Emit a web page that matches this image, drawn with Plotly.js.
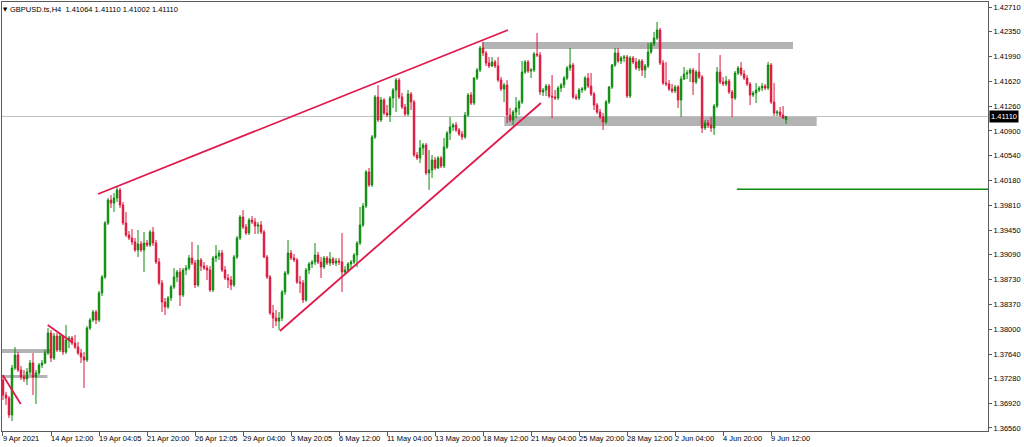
<!DOCTYPE html>
<html>
<head>
<meta charset="utf-8">
<script src="https://cdn.plot.ly/plotly-3.0.1.min.js"></script>
<style>
html,body{margin:0;padding:0;background:#fff;}
#chart{width:1024px;height:447px;}
</style>
</head>
<body>
<div id="chart"></div>
<script>
// ---- Chart data: GBPUSD.ts, H4 ----
var symbolTitle = "GBPUSD.ts,H4  1.41064 1.41110 1.41002 1.41110";
var lastPrice = 1.41110;

var openPrices = [
1.37261,1.37042,1.36998,1.36750,1.37436,1.37626,1.37407,1.37305,1.37276,1.37378,
1.37509,1.37305,1.37363,1.37480,1.37509,1.37655,1.37947,1.37582,1.37903,1.37699,
1.37903,1.37670,1.37845,1.37874,1.37801,1.37743,1.37655,1.37597,1.37553,1.38020,
1.38137,1.38255,1.38137,1.38532,1.38766,1.39554,1.39890,1.39846,1.39920,1.40037,
1.39817,1.39554,1.39379,1.39335,1.39277,1.39160,1.39248,1.39160,1.39262,1.39233,
1.39423,1.39262,1.38985,1.38678,1.38401,1.38328,1.38459,1.38620,1.38766,1.38839,
1.38503,1.38868,1.38897,1.39043,1.38970,1.38649,1.39014,1.38926,1.38897,1.38868,
1.38576,1.39043,1.39072,1.39116,1.38868,1.38751,1.38722,1.38649,1.39058,1.39335,
1.39642,1.39496,1.39408,1.39598,1.39569,1.39510,1.39525,1.39423,1.39058,1.38766,
1.38240,1.38167,1.38122,1.38167,1.38547,1.38824,1.39116,1.39043,1.39014,1.38693,
1.38678,1.38430,1.38868,1.38956,1.38985,1.39087,1.38985,1.38912,1.39043,1.38970,
1.39029,1.38970,1.38999,1.38985,1.38839,1.38868,1.38956,1.38985,1.39087,1.39262,
1.39525,1.39802,1.40300,1.40110,1.40811,1.41395,1.41059,1.41351,1.41161,1.41132,
1.41380,1.41497,1.41643,1.41395,1.41249,1.41147,1.41439,1.41322,1.40548,1.40504,
1.40650,1.40694,1.40285,1.40329,1.40475,1.40358,1.40504,1.40387,1.40665,1.40869,
1.40957,1.40986,1.40913,1.40854,1.40811,1.41132,1.41424,1.41307,1.41672,1.41789,
1.42111,1.42038,1.41892,1.41848,1.41907,1.41848,1.41643,1.41512,1.41570,1.41132,
1.41059,1.41176,1.41234,1.41322,1.41760,1.41907,1.41775,1.41789,1.42024,1.42009,
1.41468,1.41497,1.41555,1.41409,1.41395,1.41380,1.41526,1.41570,1.41672,1.41819,
1.41863,1.41395,1.41380,1.41497,1.41512,1.41672,1.41555,1.41439,1.41278,1.41176,
1.41103,1.41030,1.41322,1.41541,1.41863,1.42038,1.41921,1.41965,1.41980,1.41410,
1.41965,1.41907,1.41819,1.41921,1.41789,1.41848,1.42053,1.42170,1.42257,1.42374,
1.41892,1.41600,1.41585,1.41512,1.41482,1.41541,1.41351,1.41658,1.41731,1.41746,
1.41789,1.41614,1.41760,1.41687,1.40942,1.41015,1.40986,1.40942,1.41263,1.41760,
1.41614,1.41585,1.41629,1.41468,1.41380,1.41746,1.41819,1.41731,1.41672,1.41585,
1.41424,1.41453,1.41497,1.41526,1.41555,1.41526,1.41863,1.41322,1.41161,1.41176,
1.41132,1.41064];

var highPrices = [
1.37319,1.37086,1.37027,1.37480,1.37743,1.37670,1.37465,1.37407,1.37436,1.37553,
1.37655,1.37407,1.37509,1.37553,1.37699,1.38020,1.37991,1.37947,1.37947,1.37947,
1.37918,1.38064,1.37903,1.37903,1.37918,1.37816,1.37714,1.37670,1.38049,1.38167,
1.38284,1.38284,1.38561,1.38795,1.39583,1.39920,1.39964,1.39993,1.40081,1.40066,
1.39861,1.39715,1.39437,1.39467,1.39335,1.39452,1.39291,1.39423,1.39306,1.39452,
1.39496,1.39306,1.39043,1.38722,1.38459,1.38488,1.38649,1.38897,1.38868,1.38897,
1.38897,1.38941,1.39087,1.39277,1.39014,1.39233,1.39043,1.38985,1.38941,1.38926,
1.39072,1.39233,1.39160,1.39160,1.38926,1.38810,1.38780,1.39087,1.39364,1.39671,
1.39744,1.39540,1.39627,1.39656,1.39627,1.39569,1.39583,1.39452,1.39087,1.38795,
1.38357,1.38284,1.38255,1.38576,1.38853,1.39306,1.39160,1.39102,1.39043,1.38780,
1.38722,1.38897,1.38985,1.39014,1.39262,1.39131,1.39058,1.39072,1.39072,1.39131,
1.39058,1.39043,1.39043,1.39408,1.38926,1.38985,1.39014,1.39116,1.39291,1.39788,
1.39846,1.40329,1.40358,1.40840,1.41424,1.41570,1.41395,1.41380,1.41278,1.41409,
1.41526,1.41672,1.41672,1.41453,1.41293,1.41497,1.41468,1.41351,1.40592,1.40767,
1.40723,1.40723,1.40621,1.40548,1.40519,1.40533,1.40533,1.40796,1.40898,1.41103,
1.41015,1.41030,1.40942,1.40898,1.41176,1.41453,1.41468,1.41687,1.41819,1.42140,
1.42199,1.42067,1.41980,1.41980,1.41936,1.41980,1.41687,1.41600,1.41643,1.41234,
1.41205,1.41395,1.41351,1.41921,1.41936,1.41936,1.41819,1.42053,1.42330,1.42053,
1.41526,1.41585,1.41585,1.41716,1.41497,1.41555,1.41599,1.41701,1.41848,1.42111,
1.41892,1.41439,1.41526,1.41541,1.41701,1.41746,1.41746,1.41468,1.41307,1.41220,
1.41161,1.41351,1.41555,1.41877,1.42111,1.42111,1.41994,1.42009,1.42009,1.41994,
1.41994,1.41965,1.41950,1.41950,1.41877,1.42184,1.42199,1.42345,1.42491,1.42403,
1.41936,1.41907,1.41643,1.41585,1.41570,1.41570,1.41701,1.41833,1.41789,1.41819,
1.41819,1.41789,1.42038,1.41716,1.41059,1.41059,1.41103,1.41293,1.41833,1.42009,
1.41687,1.41701,1.41658,1.41497,1.41775,1.41848,1.41907,1.41789,1.41716,1.41614,
1.41482,1.41599,1.41555,1.41599,1.41585,1.41907,1.41892,1.41599,1.41205,1.41249,
1.41263,1.41110];

var lowPrices = [
1.36969,1.36896,1.36706,1.36662,1.37407,1.37378,1.37261,1.37232,1.37188,1.37334,
1.37042,1.36911,1.37334,1.37436,1.37495,1.37626,1.37524,1.37553,1.37670,1.37670,
1.37626,1.37641,1.37728,1.37772,1.37714,1.37626,1.37509,1.37144,1.37524,1.37991,
1.38108,1.38079,1.38108,1.38488,1.38737,1.39525,1.39773,1.39715,1.39861,1.39773,
1.39525,1.39350,1.39306,1.39233,1.39131,1.39058,1.39131,1.38839,1.39204,1.39204,
1.39218,1.38956,1.38649,1.38255,1.38211,1.38299,1.38415,1.38591,1.38693,1.38342,
1.38474,1.38795,1.38868,1.38941,1.38605,1.38620,1.38853,1.38868,1.38722,1.38547,
1.38547,1.38985,1.39014,1.38839,1.38722,1.38605,1.38576,1.38620,1.39029,1.39306,
1.39467,1.39379,1.39379,1.39540,1.39394,1.39394,1.39394,1.39043,1.38737,1.38211,
1.38020,1.38049,1.37991,1.38122,1.38503,1.38795,1.39014,1.38985,1.38664,1.38532,
1.38386,1.38401,1.38810,1.38897,1.38941,1.38956,1.38751,1.38883,1.38941,1.38926,
1.38941,1.38926,1.38941,1.38547,1.38810,1.38839,1.38897,1.38956,1.38912,1.39233,
1.39496,1.39773,1.40081,1.40081,1.40782,1.41030,1.41030,1.41132,1.41103,1.41030,
1.41234,1.41176,1.41366,1.41220,1.41117,1.41117,1.41205,1.40519,1.40475,1.40431,
1.40548,1.40256,1.40037,1.40212,1.40329,1.40344,1.40358,1.40358,1.40636,1.40767,
1.40898,1.40884,1.40825,1.40767,1.40782,1.41103,1.41278,1.41278,1.41643,1.41760,
1.41994,1.41848,1.41819,1.41834,1.41819,1.41614,1.41482,1.41322,1.41015,1.41030,
1.40986,1.41088,1.41132,1.41293,1.41731,1.41746,1.41672,1.41760,1.41980,1.41424,
1.41409,1.41409,1.41380,1.41088,1.41351,1.41351,1.41468,1.41526,1.41643,1.41775,
1.41366,1.41351,1.41351,1.41453,1.41482,1.41526,1.41409,1.41205,1.41147,1.41074,
1.40913,1.41001,1.41293,1.41512,1.41834,1.41892,1.41877,1.41907,1.41380,1.41380,
1.41877,1.41789,1.41775,1.41702,1.41672,1.41819,1.42024,1.42140,1.42228,1.41863,
1.41570,1.41555,1.41482,1.41453,1.41453,1.41234,1.41103,1.41643,1.41658,1.41614,
1.41424,1.41585,1.41658,1.40869,1.40913,1.40942,1.40884,1.40840,1.41234,1.41585,
1.41556,1.41556,1.41439,1.41103,1.41351,1.41716,1.41702,1.41643,1.41556,1.41278,
1.41395,1.41307,1.41468,1.41482,1.41497,1.41497,1.41293,1.41117,1.41117,1.41103,
1.41074,1.41002];

var closePrices = [
1.37042,1.36998,1.36750,1.37436,1.37626,1.37407,1.37305,1.37276,1.37378,1.37509,
1.37305,1.37363,1.37480,1.37509,1.37655,1.37947,1.37582,1.37903,1.37699,1.37903,
1.37670,1.37845,1.37874,1.37801,1.37743,1.37655,1.37597,1.37553,1.38020,1.38137,
1.38255,1.38137,1.38532,1.38766,1.39554,1.39890,1.39846,1.39920,1.40037,1.39817,
1.39554,1.39379,1.39335,1.39277,1.39160,1.39248,1.39160,1.39262,1.39233,1.39423,
1.39262,1.38985,1.38678,1.38401,1.38328,1.38459,1.38620,1.38766,1.38839,1.38503,
1.38868,1.38897,1.39043,1.38970,1.38649,1.39014,1.38926,1.38897,1.38868,1.38576,
1.39043,1.39072,1.39116,1.38868,1.38751,1.38722,1.38649,1.39058,1.39335,1.39642,
1.39496,1.39408,1.39598,1.39569,1.39510,1.39525,1.39423,1.39058,1.38766,1.38240,
1.38167,1.38122,1.38167,1.38547,1.38824,1.39116,1.39043,1.39014,1.38693,1.38678,
1.38430,1.38868,1.38956,1.38985,1.39087,1.38985,1.38912,1.39043,1.38970,1.39029,
1.38970,1.38999,1.38985,1.38839,1.38868,1.38956,1.38985,1.39087,1.39262,1.39525,
1.39802,1.40300,1.40110,1.40811,1.41395,1.41059,1.41351,1.41161,1.41132,1.41380,
1.41497,1.41643,1.41395,1.41249,1.41147,1.41439,1.41322,1.40548,1.40504,1.40650,
1.40694,1.40285,1.40329,1.40475,1.40358,1.40504,1.40387,1.40665,1.40869,1.40957,
1.40986,1.40913,1.40854,1.40811,1.41132,1.41424,1.41307,1.41672,1.41789,1.42111,
1.42038,1.41892,1.41848,1.41907,1.41848,1.41643,1.41512,1.41570,1.41132,1.41059,
1.41176,1.41234,1.41322,1.41760,1.41907,1.41775,1.41789,1.42024,1.42009,1.41468,
1.41497,1.41555,1.41409,1.41395,1.41380,1.41526,1.41570,1.41672,1.41819,1.41863,
1.41395,1.41380,1.41497,1.41512,1.41672,1.41555,1.41439,1.41278,1.41176,1.41103,
1.41030,1.41322,1.41541,1.41863,1.42038,1.41921,1.41965,1.41980,1.41410,1.41965,
1.41907,1.41819,1.41921,1.41789,1.41848,1.42053,1.42170,1.42257,1.42374,1.41892,
1.41600,1.41585,1.41512,1.41482,1.41541,1.41351,1.41658,1.41731,1.41746,1.41789,
1.41614,1.41760,1.41687,1.40942,1.41015,1.40986,1.40942,1.41263,1.41760,1.41614,
1.41585,1.41629,1.41468,1.41380,1.41746,1.41819,1.41731,1.41672,1.41585,1.41424,
1.41453,1.41497,1.41526,1.41555,1.41526,1.41863,1.41322,1.41161,1.41176,1.41132,
1.41088,1.41110];

// bar index of each date label and its text
var dateTickIndex = [0,16,32,48,64,80,96,112,128,144,160,176,192,208,224,240,256];
var dateTickText = ["9 Apr 2021","14 Apr 12:00","19 Apr 04:05","21 Apr 20:00","26 Apr 12:05",
  "29 Apr 04:00","3 May 20:05","6 May 12:00","11 May 04:00","13 May 20:00","18 May 12:00",
  "21 May 04:00","25 May 20:00","28 May 12:00","2 Jun 04:00","4 Jun 20:00","9 Jun 12:00"];

var priceTicks = [1.42710,1.42350,1.41990,1.41620,1.41260,1.40900,1.40540,1.40180,1.39810,
  1.39450,1.39090,1.38730,1.38370,1.38000,1.37640,1.37280,1.36920,1.36560];

// hand-drawn objects: trend lines [barStart, priceStart, barEnd, priceEnd]
var trendLines = [
  [31.7, 1.39978, 168.3, 1.42374],
  [92.3, 1.37977, 179.3, 1.41307],
  [-0.1, 1.37334, 5.9, 1.36910],
  [14.9, 1.38064, 22.9, 1.37816]
];
// rectangles [barStart, barEnd, priceLow, priceHigh]
var zones = [
  [-0.4, 15.7, 1.37655, 1.37714],
  [-0.4, 14.8, 1.37290, 1.37334],
  [159.6, 263.3, 1.42096, 1.42199],
  [167.1, 271.2, 1.40971, 1.41103]
];
// horizontal level [barStart, price]
var greenLevel = [244.6, 1.40047];

// ---- build chart ----
var barIndex = closePrices.map(function(_, i){ return i; });

var UP = '#0b8a0b', DOWN = '#dc143c';
var FONT = 'Liberation Sans, Arial, sans-serif';

var trace = {
  type: 'candlestick',
  x: barIndex,
  open: openPrices, high: highPrices, low: lowPrices, close: closePrices,
  increasing: {line: {color: UP, width: 1}, fillcolor: UP},
  decreasing: {line: {color: DOWN, width: 1}, fillcolor: DOWN},
  whiskerwidth: 0,
  hoverinfo: 'skip'
};

var shapes = [];
zones.forEach(function(z){
  shapes.push({type:'rect', xref:'x', yref:'y', x0:z[0], x1:z[1], y0:z[2], y1:z[3],
    fillcolor:'#b3b3b3', line:{width:0}, layer:'below'});
});
shapes.push({type:'line', xref:'paper', yref:'y', x0:0, x1:1, y0:lastPrice, y1:lastPrice,
  line:{color:'#c0c0c0', width:1}, layer:'below'});
trendLines.forEach(function(t){
  shapes.push({type:'line', xref:'x', yref:'y', x0:t[0], y0:t[1], x1:t[2], y1:t[3],
    line:{color:'#e0194c', width:1.8}, layer:'above'});
});
shapes.push({type:'line', xref:'x', yref:'y', x0:greenLevel[0], x1:328.3, y0:greenLevel[1], y1:greenLevel[1],
  line:{color:'#118a11', width:1.6}, layer:'above'});

var annotations = [];
dateTickIndex.forEach(function(ix, k){
  annotations.push({xref:'x', yref:'paper', x:ix, y:0, xanchor:'left', yanchor:'top',
    text: dateTickText[k], showarrow:false, xshift:-1, yshift:-2, borderpad:0,
    font:{family:FONT, size:7.5, color:'#000'}});
});
annotations.push({xref:'paper', yref:'paper', x:0, y:1, xanchor:'left', yanchor:'top',
  text:'▼', showarrow:false, xshift:0, yshift:-3, borderpad:0,
  font:{family:'DejaVu Sans', size:5.5, color:'#000'}});
annotations.push({xref:'paper', yref:'paper', x:0, y:1, xanchor:'left', yanchor:'top',
  text:symbolTitle, showarrow:false, xshift:7, yshift:-2, borderpad:0,
  font:{family:FONT, size:7.5, color:'#000'}});
annotations.push({xref:'paper', yref:'y', x:1, y:lastPrice, xanchor:'left', yanchor:'middle',
  text:lastPrice.toFixed(5), showarrow:false, xshift:1, borderpad:1, bgcolor:'#000',
  font:{family:FONT, size:7.5, color:'#fff'}});

var layout = {
  width: 1024, height: 447,
  margin: {l:2, r:36, t:2, b:16, pad:0},
  paper_bgcolor:'#fff', plot_bgcolor:'#fff',
  showlegend:false,
  font:{family:FONT, size:7.5, color:'#000'},
  xaxis:{
    type:'linear', range:[-0.33, 328.3], rangeslider:{visible:false},
    showgrid:false, zeroline:false, showline:true, mirror:true, linecolor:'#5a5a5a', linewidth:1,
    tickmode:'array', tickvals:dateTickIndex, ticks:'outside', ticklen:4, tickcolor:'#5a5a5a',
    showticklabels:false, fixedrange:true
  },
  yaxis:{
    side:'right', range:[1.36516, 1.42783],
    showgrid:false, zeroline:false, showline:true, mirror:true, linecolor:'#5a5a5a', linewidth:1,
    tickmode:'array', tickvals:priceTicks, ticktext:priceTicks.map(function(v){return v.toFixed(5);}),
    ticks:'outside', ticklen:3, tickcolor:'#5a5a5a',
    tickfont:{family:FONT, size:7.5, color:'#000'}, fixedrange:true
  },
  shapes: shapes,
  annotations: annotations
};

Plotly.newPlot('chart', [trace], layout, {displayModeBar:false, staticPlot:true});
</script>
</body>
</html>
